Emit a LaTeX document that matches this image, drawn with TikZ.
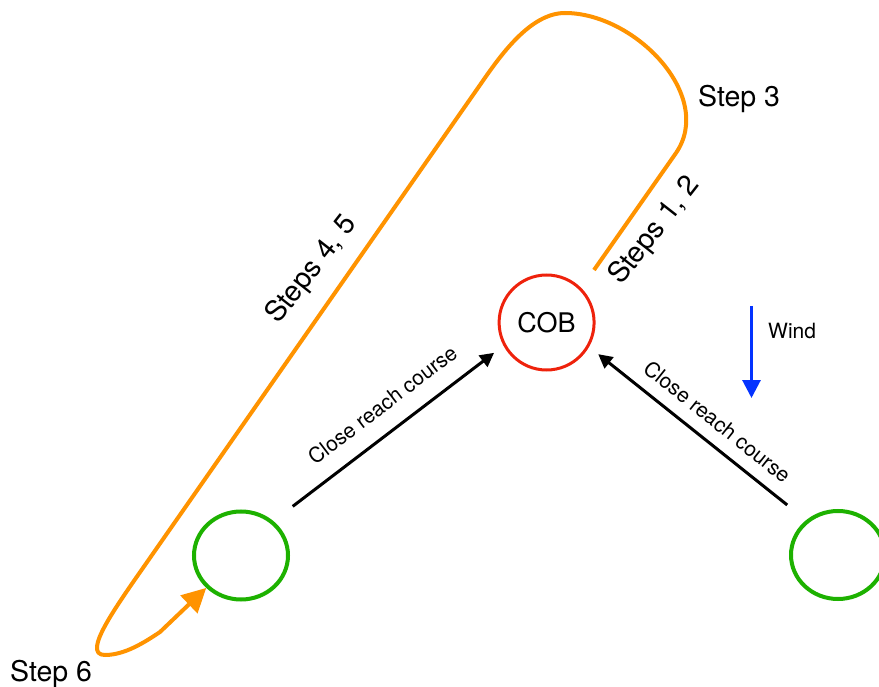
\documentclass[tikz,border=0pt]{standalone}
\usepackage{fontspec}
\setmainfont{TeX Gyre Heros}
\usetikzlibrary{arrows.meta,shapes.geometric}

\definecolor{trackorange}{RGB}{255,147,0}
\definecolor{boatgreen}{RGB}{29,177,0}
\definecolor{cobred}{RGB}{238,34,12}
\definecolor{windblue}{RGB}{4,51,255}

\begin{document}
\begin{tikzpicture}[
    x=1pt, y=-1pt,
    boat/.style={ellipse, draw=boatgreen, line width=4pt, minimum width=94pt, minimum height=88pt, inner sep=0pt},
    mob/.style={circle, draw=cobred, line width=3pt, minimum size=95pt, inner sep=0pt, font=\fontsize{27}{31}\selectfont},
    course/.style={line width=3pt, -{Triangle[length=14pt,width=14pt]}, shorten <=65pt, shorten >=66pt},
    track/.style={draw=trackorange, line width=4pt, line join=round, -{Triangle[length=24pt,width=24pt]}},
    wind/.style={draw=windblue, line width=3pt, -{Triangle[length=18pt,width=18pt]}},
    steplabel/.style={font=\fontsize{28.5}{33}\selectfont, inner sep=0pt},
    small/.style={font=\fontsize{21}{25}\selectfont, inner sep=0pt}
]
\useasboundingbox (0,0) rectangle (879,687);

\node[mob] (cob) at (546.6,322.5) {COB};
\node[boat] (boatL) at (241,555.5) {};
\node[boat] (boatR) at (838,555) {};

% approach courses
\draw[course] ([yshift=9.7pt]boatL.center) -- node[pos=0.515, sloped, above=17pt, small] {Close reach course} ([yshift=9.7pt]cob.center);
\draw[course] ([yshift=9.5pt]boatR.center) -- node[pos=0.46, sloped, above=12pt, small] {Close reach course} ([yshift=9.5pt]cob.center);

% wind direction
\coordinate (windtop) at (751.5,306);
\coordinate (windtip) at (751.5,398);
\draw[wind] (windtop) -- (windtip);
\node[small, anchor=base west] (windlabel) at (768,338) {Wind};

% the manoeuvre
\draw[track] (594,270) -- (676,153)
    .. controls (715,96) and (635,13) .. (565,13)
    .. controls (530,13) and (500,56) .. (480,85)
    -- (152,555)
    .. controls (118,604) and (80,655) .. (105,655)
    .. controls (125,655) and (145,642) .. (160,632)
    -- (boatL.223);

\node[steplabel, anchor=base west] (step3) at (698,107) {Step 3};
\node[steplabel, anchor=base west] (step6) at (10,681) {Step 6};
\node[steplabel, rotate=52] (steps45) at (312,270) {Steps 4, 5};
\node[steplabel, rotate=52] (steps12) at (655,231) {Steps 1, 2};

\end{tikzpicture}
\end{document}
